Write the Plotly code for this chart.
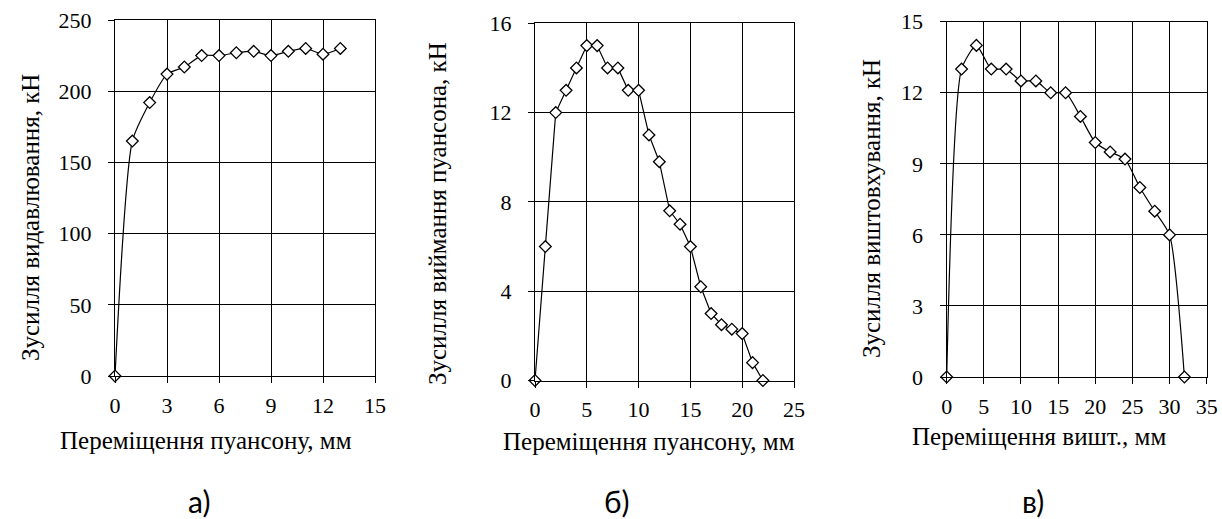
import plotly.graph_objects as go

# ---- Data ----
# Panel a
a_x = [0, 1, 2, 3, 4, 5, 6, 7, 8, 9, 10, 11, 12, 13]
a_y = [0, 165, 192, 212, 217, 225, 225, 227, 228, 225, 228, 230, 226, 230]
a_xticks = [0, 3, 6, 9, 12, 15]
a_yticks = [0, 50, 100, 150, 200, 250]

# Panel b
b_x = [0, 1, 2, 3, 4, 5, 6, 7, 8, 9, 10, 11, 12, 13, 14, 15, 16, 17, 18, 19, 20, 21, 22]
b_y = [0, 6, 12, 13, 14, 15, 15, 14, 14, 13, 13, 11, 9.8, 7.6, 7, 6, 4.2, 3, 2.5, 2.3, 2.1, 0.8, 0]
b_xticks = [0, 5, 10, 15, 20, 25]
b_yticks = [0, 4, 8, 12, 16]

# Panel c
c_x = [0, 2, 4, 6, 8, 10, 12, 14, 16, 18, 20, 22, 24, 26, 28, 30, 32]
c_y = [0, 13, 14, 13, 13, 12.5, 12.5, 12, 12, 11, 9.9, 9.5, 9.2, 8, 7, 6, 0]
c_xticks = [0, 5, 10, 15, 20, 25, 30, 35]
c_yticks = [0, 3, 6, 9, 12, 15]

y_titles = ["Зусилля видавлювання, кН", "Зусилля виймання пуансона, кН", "Зусилля виштовхування, кН"]
x_titles = ["Переміщення пуансону, мм", "Переміщення пуансону, мм", "Переміщення вишт., мм"]
panel_labels = ["а)", "б)", "в)"]

W, H = 1222, 519
SERIF = "Liberation Serif"

fig = go.Figure()

panels = [
    dict(x=a_x, y=a_y, xt=a_xticks, yt=a_yticks, shape="spline",
         px=(115, 375), py=(20, 376)),
    dict(x=b_x, y=b_y, xt=b_xticks, yt=b_yticks, shape="linear",
         px=(535, 794), py=(23.3, 380.5)),
    dict(x=c_x, y=c_y, xt=c_xticks, yt=c_yticks, shape="spline",
         px=(946.7, 1206.7), py=(21.7, 377)),
]

for i, p in enumerate(panels):
    n = "" if i == 0 else str(i + 1)
    line = dict(color="black", width=1.2, shape=p["shape"])
    if p["shape"] == "spline":
        line["smoothing"] = 0.6
    fig.add_trace(go.Scatter(
        x=p["x"], y=p["y"], mode="lines+markers",
        line=line,
        marker=dict(symbol="diamond", size=9, color="white",
                    line=dict(color="black", width=1.3)),
        cliponaxis=False, showlegend=False,
        xaxis="x" + n, yaxis="y" + n,
    ))
    xd = [p["px"][0] / W, p["px"][1] / W]
    yd = [1 - p["py"][1] / H, 1 - p["py"][0] / H]
    common = dict(showgrid=True, gridcolor="black", gridwidth=1.4,
                  showline=True, linecolor="black", linewidth=1.4, mirror=True,
                  ticks="outside", ticklen=6, tickcolor="black", tickwidth=1.4,
                  tickfont=dict(family=SERIF, size=22, color="black"),
                  zeroline=False, fixedrange=True, automargin=False)
    fig.layout["xaxis" + n] = dict(common, domain=xd, range=[p["xt"][0], p["xt"][-1]],
                                   tickvals=p["xt"], anchor="y" + n,
                                   ticklabelstandoff=3)
    fig.layout["yaxis" + n] = dict(common, domain=yd, range=[p["yt"][0], p["yt"][-1]],
                                   tickvals=p["yt"], anchor="x" + n,
                                   ticklabelstandoff=12)

ann = []
ytitle_pos = [(30, 218), (437, 214), (871, 209)]
xtitle_pos = [(205.5, 440.7), (649, 441.7), (1039, 436.7)]
label_pos = [(199, 501), (617, 501), (1033, 501)]
for i in range(3):
    ann.append(dict(text=y_titles[i], x=ytitle_pos[i][0] / W, y=1 - ytitle_pos[i][1] / H,
                    xref="paper", yref="paper", showarrow=False, textangle=-90,
                    xanchor="center", yanchor="middle",
                    font=dict(family=SERIF, size=25, color="black")))
    ann.append(dict(text=x_titles[i], x=xtitle_pos[i][0] / W, y=1 - xtitle_pos[i][1] / H,
                    xref="paper", yref="paper", showarrow=False,
                    xanchor="center", yanchor="middle",
                    font=dict(family=SERIF, size=25, color="black")))
    ann.append(dict(text=panel_labels[i], x=label_pos[i][0] / W, y=1 - label_pos[i][1] / H,
                    xref="paper", yref="paper", showarrow=False,
                    xanchor="center", yanchor="middle", borderpad=0,
                    font=dict(family="Lato", size=30, color="black")))

fig.update_layout(
    width=W, height=H,
    margin=dict(l=0, r=0, t=0, b=0, autoexpand=False),
    paper_bgcolor="white", plot_bgcolor="white",
    annotations=ann,
)

fig.write_html(
    "out.html",
    config=dict(displayModeBar=False),
    post_script="document.body.style.margin='0';document.body.style.padding='0';"
                "document.body.style.overflow='hidden';",
)
